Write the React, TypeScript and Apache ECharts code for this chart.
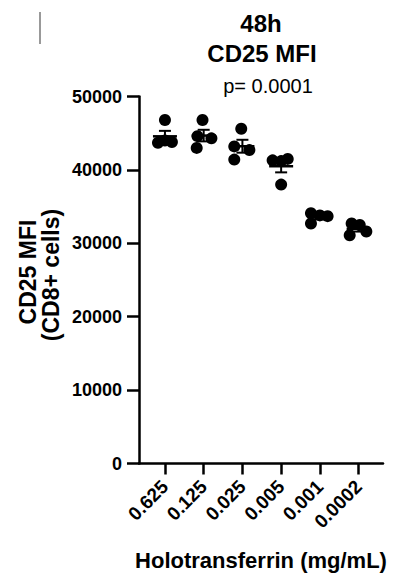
import React, { useEffect, useRef } from "react";
import * as echarts from "echarts";

const categories = ["0.625", "0.125", "0.025", "0.005", "0.001", "0.0002"];
const g0625 = [46800, 43700, 44000, 43800];
const g0125 = [46800, 44600, 44300, 43000];
const g0025 = [45600, 43200, 42700, 41400];
const g0005 = [41300, 41200, 41500, 38000];
const g0001 = [34100, 33800, 33700, 32700];
const g00002 = [32700, 32500, 31600, 31100];
const groups = [g0625, g0125, g0025, g0005, g0001, g00002];
// horizontal scatter offsets within each column (category units)
const jitter = [
  [0, -0.18, 0, 0.18],
  [-0.03, -0.16, 0.2, -0.18],
  [-0.03, -0.21, 0.18, -0.21],
  [-0.22, 0, 0.17, 0],
  [-0.23, 0, 0.2, -0.23],
  [-0.18, 0.03, 0.2, -0.23],
];
const yTicks = [0, 10000, 20000, 30000, 40000, 50000];
const yTitle = ["CD25 MFI", "(CD8+ cells)"];
const FONT = 'Arial, "Liberation Sans", Helvetica, sans-serif';

function stats(v: number[]) {
  const n = v.length;
  const m = v.reduce((a, b) => a + b, 0) / n;
  const sd = Math.sqrt(v.reduce((a, b) => a + (b - m) * (b - m), 0) / (n - 1));
  const sem = sd / Math.sqrt(n);
  return [m, m - sem, m + sem];
}

export default function App() {
  const ref = useRef<HTMLDivElement>(null);
  useEffect(() => {
    if (!ref.current) return;
    const chart = echarts.init(ref.current, null, { renderer: "svg" });
    const points: number[][] = [];
    groups.forEach((g, i) => g.forEach((v, j) => points.push([i + 1 + jitter[i][j], v])));
    const summary = groups.map((g, i) => [i + 1, ...stats(g)]);
    chart.setOption({
      animation: false,
      backgroundColor: "#fff",
      grid: { left: 139, right: 11, top: 96.5, bottom: 124.5, containLabel: false },
      xAxis: {
        type: "value",
        min: 0.33,
        max: 6.63,
        splitLine: { show: false },
        axisLine: { show: true, onZero: false, lineStyle: { color: "#000", width: 2.5 } },
        axisTick: {
          show: true,
          customValues: [1, 2, 3, 4, 5, 6],
          length: 11,
          lineStyle: { color: "#000", width: 2.5 },
        },
        axisLabel: {
          customValues: [1, 2, 3, 4, 5, 6],
          formatter: (v: number) => categories[Math.round(v) - 1] ?? "",
          rotate: 45,
          margin: 20,
          color: "#000",
          fontWeight: "bold",
          fontSize: 19,
          fontFamily: FONT,
        },
        name: "Holotransferrin (mg/mL)",
        nameLocation: "middle",
        nameGap: 86,
        nameTextStyle: { color: "#000", fontWeight: "bold", fontSize: 22, fontFamily: FONT, verticalAlign: "top" },
      },
      yAxis: {
        type: "value",
        min: 0,
        max: 50000,
        interval: 10000,
        splitLine: { show: false },
        axisLine: { show: true, lineStyle: { color: "#000", width: 2.5 } },
        axisTick: { show: true, length: 12, lineStyle: { color: "#000", width: 2.5 } },
        axisLabel: {
          margin: 17,
          color: "#000",
          fontWeight: "bold",
          fontSize: 18,
          fontFamily: FONT,
          formatter: (v: number) => (yTicks.includes(v) ? String(v) : ""),
        },
      },
      series: [
        {
          type: "scatter",
          data: points,
          symbol: "circle",
          symbolSize: 12,
          itemStyle: { color: "#000", opacity: 1 },
          z: 2,
        },
        {
          type: "custom",
          data: summary,
          z: 3,
          renderItem: (params: any, api: any) => {
            const x = api.value(0);
            const m = api.coord([x, api.value(1)]);
            const lo = api.coord([x, api.value(2)]);
            const hi = api.coord([x, api.value(3)]);
            const st = { stroke: "#000", lineWidth: 2 };
            return {
              type: "group",
              children: [
                { type: "line", shape: { x1: m[0] - 12, y1: m[1], x2: m[0] + 12, y2: m[1] }, style: { stroke: "#000", lineWidth: 2.5 } },
                { type: "line", shape: { x1: lo[0], y1: lo[1], x2: hi[0], y2: hi[1] }, style: st },
                { type: "line", shape: { x1: hi[0] - 6, y1: hi[1], x2: hi[0] + 6, y2: hi[1] }, style: st },
                { type: "line", shape: { x1: lo[0] - 6, y1: lo[1], x2: lo[0] + 6, y2: lo[1] }, style: st },
              ],
            };
          },
        },
      ],
      graphic: [
        { type: "line", shape: { x1: 40, y1: 12, x2: 40, y2: 44 }, style: { stroke: "#777", lineWidth: 1.5 } },
        {
          type: "text", x: 261, y: 23,
          style: { text: "48h", fill: "#000", font: `bold 24px ${FONT}`, textAlign: "center", textVerticalAlign: "middle" },
        },
        {
          type: "text", x: 262, y: 53,
          style: { text: "CD25 MFI", fill: "#000", font: `bold 24px ${FONT}`, textAlign: "center", textVerticalAlign: "middle" },
        },
        {
          type: "text", x: 268, y: 86,
          style: { text: "p= 0.0001", fill: "#000", font: `20px ${FONT}`, textAlign: "center", textVerticalAlign: "middle" },
        },
        {
          type: "text", x: 28, y: 272, rotation: Math.PI / 2,
          style: { text: yTitle[0], fill: "#000", font: `bold 23px ${FONT}`, textAlign: "center", textVerticalAlign: "middle" },
        },
        {
          type: "text", x: 51, y: 275, rotation: Math.PI / 2,
          style: { text: yTitle[1], fill: "#000", font: `bold 23px ${FONT}`, textAlign: "center", textVerticalAlign: "middle" },
        },
      ],
    });
    return () => chart.dispose();
  }, []);
  return <div ref={ref} style={{ position: "fixed", left: 0, top: 0, width: 394, height: 588 }} />;
}
